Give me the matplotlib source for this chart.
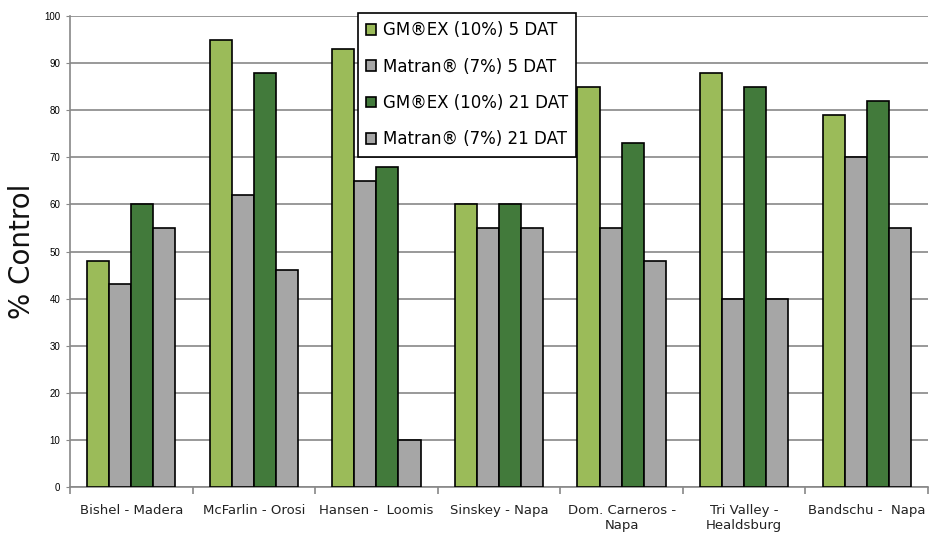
import matplotlib
matplotlib.use('Agg')
import matplotlib.pyplot as plt
import numpy as np

# data
sites = ['Bishel - Madera', 'McFarlin - Orosi', 'Hansen -  Loomis', 'Sinskey - Napa',
         'Dom. Carneros -\nNapa', 'Tri Valley -\nHealdsburg', 'Bandschu -  Napa']
series = ['GM\u00aeEX (10%) 5 DAT', 'Matran\u00ae (7%) 5 DAT',
          'GM\u00aeEX (10%) 21 DAT', 'Matran\u00ae (7%) 21 DAT']
gmex_5 = [48, 95, 93, 60, 85, 88, 79]
matran_5 = [43, 62, 65, 55, 55, 40, 70]
gmex_21 = [60, 88, 68, 60, 73, 85, 82]
matran_21 = [55, 46, 10, 55, 48, 40, 55]
colors = ['#9BBB59', '#A6A6A6', '#427A3B', '#A6A6A6']

plt.rcParams['font.family'] = ['DejaVu Sans']
fig = plt.figure(figsize=(9.3, 5.33), dpi=100)
ax = fig.add_axes([70 / 930, 1 - 487 / 533, 858 / 930, 471 / 533])

x = np.arange(len(sites))
w = 0.18
for i, (vals, name) in enumerate(zip([gmex_5, matran_5, gmex_21, matran_21], series)):
    ax.bar(x + (i - 1.5) * w + 0.5, vals, w, color=colors[i], edgecolor='black',
           linewidth=1.2, label=name, zorder=3)

ax.set_xlim(0, len(sites))
ax.set_ylim(0, 100)
ax.set_yticks(range(0, 101, 10))
ax.grid(axis='y', color='#888888', linewidth=1.2, zorder=0)
ax.tick_params(axis='y', length=3, color='#888888', labelsize=7, pad=4)
for t in ax.get_yticklabels():
    t.set_family('Liberation Sans')

# category boundaries as ticks, labels in the middle
ax.set_xticks(range(len(sites) + 1))
ax.set_xticklabels([])
ax.tick_params(axis='x', which='major', length=5, width=1.2, color='#888888')
ax.set_xticks(x + 0.5, minor=True)
ax.set_xticklabels(sites, minor=True, fontsize=9.5, color='#222222')
ax.tick_params(axis='x', which='minor', length=0, pad=12)

for s in ['top', 'right']:
    ax.spines[s].set_visible(False)
for s in ['left', 'bottom']:
    ax.spines[s].set_color('#888888')
    ax.spines[s].set_linewidth(1.2)

ax.set_ylabel('% Control', fontsize=20, labelpad=6, color='#111111')

leg = ax.legend(loc='upper left', bbox_to_anchor=(358 / 930, 1 - 13 / 533),
                bbox_transform=fig.transFigure, fontsize=12, handlelength=0.6,
                handleheight=0.6, handletextpad=0.4, labelspacing=1.1,
                borderpad=0.5, borderaxespad=0, fancybox=False, framealpha=1)
leg.get_frame().set_edgecolor('black')
leg.get_frame().set_linewidth(1.2)
leg.set_zorder(5)

plt.savefig('out.png', dpi=100)
